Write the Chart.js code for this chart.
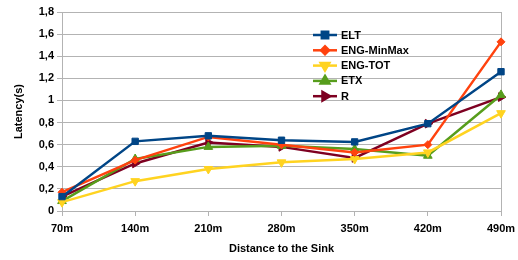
<!DOCTYPE html>
<html>
<head>
<meta charset="utf-8">
<script src="https://cdn.jsdelivr.net/npm/chart.js@4/dist/chart.umd.min.js"></script>
<style>
  html, body { margin: 0; padding: 0; background: #fff; }
  #wrap { width: 518px; height: 260px; }
</style>
</head>
<body>
<div id="wrap"><canvas id="myChart"></canvas></div>
<script>
const distances = ["70m", "140m", "210m", "280m", "350m", "420m", "490m"];
const elt = [0.13, 0.63, 0.68, 0.64, 0.625, 0.79, 1.26];
const engMinMax = [0.17, 0.46, 0.67, 0.6, 0.53, 0.6, 1.53];
const engTot = [0.08, 0.27, 0.38, 0.44, 0.47, 0.53, 0.885];
const etx = [0.09, 0.47, 0.58, 0.59, 0.56, 0.5, 1.05];
const r = [0.13, 0.43, 0.62, 0.58, 0.48, 0.79, 1.03];

const gridColor = "#b3b3b3";
const font = "Liberation Sans, Arial, sans-serif";

function series(label, values, color, style, rotation, radius) {
  return {
    label: label,
    data: values,
    borderColor: color,
    backgroundColor: color,
    borderWidth: 2.5,
    pointStyle: style,
    pointRotation: rotation,
    pointRadius: radius,
    pointBorderWidth: 1,
    tension: 0,
  };
}

// legend drawn inside the plot, like the original
const innerLegend = {
  id: "innerLegend",
  afterDraw(chart) {
    const c = chart.ctx;
    c.save();
    c.font = "bold 11px " + font;
    c.textBaseline = "middle";
    chart.data.datasets.forEach((ds, i) => {
      const y = 35 + i * 15.3;
      c.strokeStyle = ds.borderColor;
      c.lineWidth = 2.5;
      c.beginPath();
      c.moveTo(313, y);
      c.lineTo(337, y);
      c.stroke();
      c.fillStyle = ds.borderColor;
      Chart.helpers.drawPoint(c, {
        pointStyle: ds.pointStyle,
        rotation: ds.pointRotation,
        radius: ds.pointRadius,
        borderWidth: 1,
      }, 325, y);
      c.fillStyle = "#000";
      c.fillText(ds.label, 341, y + 0.5);
    });
    c.restore();
  },
};

const ctx = document.getElementById("myChart").getContext("2d");

const myChart = new Chart(ctx, {
  type: "line",
  data: {
    labels: distances,
    datasets: [
      series("ELT", elt, "#004586", "rect", 0, 4.5),
      series("ENG-MinMax", engMinMax, "#ff420e", "rectRot", 0, 4),
      series("ENG-TOT", engTot, "#ffd320", "triangle", 180, 5),
      series("ETX", etx, "#579d1c", "triangle", 0, 5),
      series("R", r, "#7e0021", "triangle", 90, 5),
    ],
  },
  options: {
    responsive: true,
    maintainAspectRatio: false,
    animation: false,
    layout: { padding: { top: 12, right: 17, left: 8, bottom: 0 } },
    plugins: {
      legend: { display: false },
      tooltip: { enabled: false },
    },
    scales: {
      x: {
        offset: false,
        grid: {
          color: (c) => (c.index === distances.length - 1 ? gridColor : "rgba(0,0,0,0)"),
          tickColor: gridColor,
          tickLength: 5,
          lineWidth: 1,
        },
        border: { color: gridColor },
        ticks: {
          color: "#000",
          font: { family: font, size: 11, weight: "bold" },
          maxRotation: 0,
          padding: 6,
        },
        title: {
          display: true,
          text: "Distance to the Sink",
          color: "#000",
          font: { family: font, size: 11, weight: "bold" },
          padding: { top: 8 },
        },
        afterFit(scale) {
          scale.height = 49;
          scale.paddingRight = 0;
          scale.paddingLeft = 0;
        },
      },
      y: {
        min: 0,
        max: 1.8,
        ticks: {
          stepSize: 0.2,
          color: "#000",
          font: { family: font, size: 11, weight: "bold" },
          padding: 3,
          callback: (v) => String(Math.round(v * 10) / 10).replace(".", ","),
        },
        grid: { color: gridColor, tickColor: gridColor, tickLength: 5 },
        border: { color: gridColor },
        title: {
          display: true,
          text: "Latency(s)",
          color: "#000",
          font: { family: font, size: 11, weight: "bold" },
          padding: { bottom: 8 },
        },
        afterFit(scale) {
          scale.width = 54;
          scale.paddingTop = 0;
          scale.paddingBottom = 0;
        },
      },
    },
  },
  plugins: [innerLegend],
});
</script>
</body>
</html>
